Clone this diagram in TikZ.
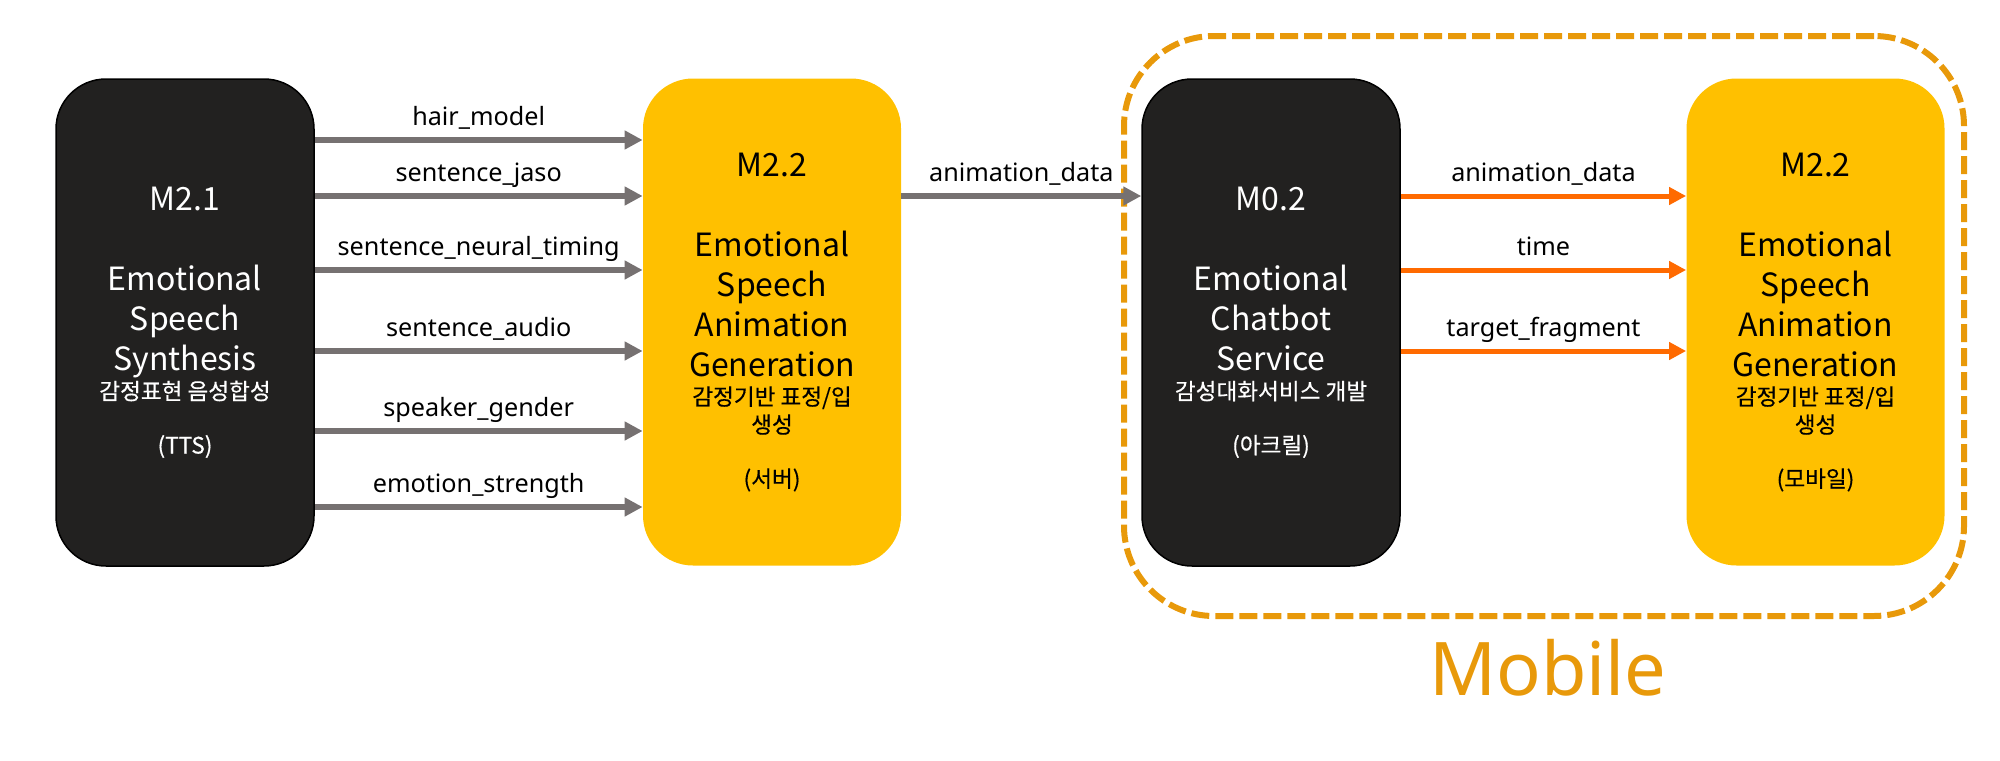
\documentclass[tikz,border=0pt]{standalone}
\usepackage{fontspec}
\setmainfont{Noto Sans}
\newfontfamily\kofont{Noto Sans CJK KR}
\newfontfamily\kobold[FakeBold=0.4]{Noto Sans CJK KR}
\usetikzlibrary{arrows.meta}

\definecolor{boxdark}{HTML}{222120}
\definecolor{boxyellow}{HTML}{FFC000}
\definecolor{arrowgrey}{HTML}{767171}
\definecolor{arroworange}{HTML}{FF6A00}
\definecolor{mobilegold}{HTML}{E8990A}

\newcommand{\kosmall}[1]{{\kobold\fontsize{11.3}{12}\selectfont #1}}

\tikzset{
  module/.style={rounded corners=25pt, minimum width=129pt, minimum height=243.5pt,
    align=center, inner sep=0pt, font=\kofont\fontsize{16}{20}\selectfont},
  darkmod/.style={module, fill=boxdark, draw=black, line width=0.75pt, text=white},
  yellowmod/.style={module, fill=boxyellow, text=black},
  greyarrow/.style={draw=arrowgrey, line width=3pt, -{Triangle[length=9pt,width=9pt]}},
  orangearrow/.style={draw=arroworange, line width=2.5pt, -{Triangle[length=8.5pt,width=8.5pt]}},
  flowlabel/.style={midway, anchor=base, yshift=7.5pt, font=\fontsize{12.6}{14}\selectfont, text=black},
  mobilezone/.style={draw=mobilegold, line width=3pt, dash pattern=on 9pt off 3pt,
    rounded corners=45pt, minimum width=420pt, minimum height=290pt}
}

\begin{document}
\begin{tikzpicture}[x=0.5pt, y=-0.5pt]
    \useasboundingbox (0,0) rectangle (2000,760);

    \node[mobilezone] (zone) at (1544,326) {};
    \node[anchor=base, text=mobilegold, font=\fontsize{37}{40}\selectfont] (mobiletext) at (1548,695.6) {Mobile};

    \node[darkmod] (tts) at (185,322.5) {M2.1\\[20pt]Emotional\\Speech\\Synthesis\\[-5.5pt]\kosmall{감정표현 음성합성}\\[7pt]\kosmall{(TTS)}};
    \node[yellowmod] (srv) at (772,322) {M2.2\\[20pt]Emotional\\Speech\\Animation\\Generation\\[-5.5pt]\kosmall{감정기반 표정/입}\\[-6pt]\kosmall{생성}\\[7pt]\kosmall{(서버)}};
    \node[darkmod] (chat) at (1271,322.5) {M0.2\\[20pt]Emotional\\Chatbot\\Service\\[-5.5pt]\kosmall{감성대화서비스 개발}\\[7pt]\kosmall{(아크릴)}};
    \node[yellowmod] (mob) at (1815.5,322) {M2.2\\[20pt]Emotional\\Speech\\Animation\\Generation\\[-5.5pt]\kosmall{감정기반 표정/입}\\[-6pt]\kosmall{생성}\\[7pt]\kosmall{(모바일)}};

    \foreach \yy/\name in {140/hair\_model, 196/sentence\_jaso, 270/sentence\_neural\_timing, 351/sentence\_audio, 431/speaker\_gender, 507/emotion\_strength}
        \draw[greyarrow] (tts.east |- 0,\yy) -- node[flowlabel]{\name} (srv.west |- 0,\yy);

    \draw[greyarrow] (srv.east |- 0,196) -- node[flowlabel]{animation\_data} (chat.west |- 0,196);

    \foreach \yy/\name in {196/animation\_data, 270/time, 351/target\_fragment}
        \draw[orangearrow] (chat.east |- 0,\yy) -- node[flowlabel]{\name} (mob.west |- 0,\yy);

\end{tikzpicture}
\end{document}
